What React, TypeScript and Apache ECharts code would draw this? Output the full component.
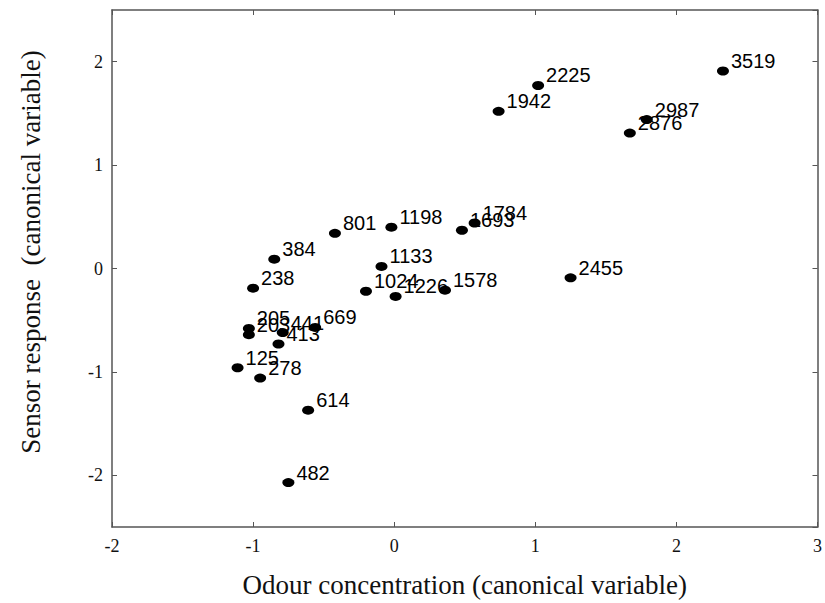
import React, { useEffect, useRef } from "react";
import * as echarts from "echarts";

const pointLabels = ["3519", "2225", "1942", "2987", "2876", "1784", "1693", "1198", "801", "1133", "1024", "1226", "1578", "2455", "384", "238", "205", "203", "441", "669", "413", "125", "278", "614", "482"];
const odourValues = [2.33, 1.02, 0.74, 1.79, 1.67, 0.57, 0.48, -0.02, -0.42, -0.09, -0.2, 0.01, 0.36, 1.25, -0.85, -1.0, -1.03, -1.03, -0.79, -0.56, -0.82, -1.11, -0.95, -0.61, -0.75];
const sensorValues = [1.91, 1.77, 1.52, 1.44, 1.31, 0.44, 0.37, 0.4, 0.34, 0.02, -0.22, -0.27, -0.21, -0.09, 0.09, -0.19, -0.58, -0.64, -0.62, -0.57, -0.73, -0.96, -1.06, -1.37, -2.07];

const xTitle = "Odour concentration (canonical variable)";
const yTitle = "Sensor response  (canonical variable)";

const SERIF = "'Liberation Serif', 'Times New Roman', serif";
const SANS = "'Liberation Sans', Arial, sans-serif";

export default function App() {
  const ref = useRef<HTMLDivElement>(null);
  useEffect(() => {
    if (!ref.current) return;
    const chart = echarts.init(ref.current, null, { renderer: "svg" });
    const axisLine = { show: true, onZero: false, lineStyle: { color: "#555", width: 1.5 } };
    const axisTick = { show: true, inside: true, length: 5, lineStyle: { color: "#555", width: 1 } };
    const data = pointLabels.map((name, i) => ({ name, value: [odourValues[i], sensorValues[i]] }));
    chart.setOption({
      animation: false,
      backgroundColor: "#fff",
      grid: { left: 112, right: 6, top: 10, bottom: 75, containLabel: false },
      xAxis: [
        {
          type: "value", min: -2, max: 3, interval: 1, position: "bottom",
          axisLine, axisTick, splitLine: { show: false },
          axisLabel: { color: "#111", fontFamily: SERIF, fontSize: 18, margin: 10 },
          name: xTitle, nameLocation: "middle", nameGap: 44,
          nameTextStyle: { color: "#111", fontFamily: SERIF, fontSize: 27 },
        },
        {
          type: "value", min: -2, max: 3, interval: 1, position: "top",
          axisLine, axisTick, splitLine: { show: false }, axisLabel: { show: false },
        },
      ],
      yAxis: [
        {
          type: "value", min: -2.5, max: 2.5, splitNumber: 5, position: "left",
          axisLine, axisTick, splitLine: { show: false },
          axisLabel: { color: "#111", fontFamily: SERIF, fontSize: 18, margin: 9, showMinLabel: false, showMaxLabel: false },
        },
        {
          type: "value", min: -2.5, max: 2.5, splitNumber: 5, position: "right",
          axisLine, axisTick, splitLine: { show: false }, axisLabel: { show: false },
        },
      ],
      graphic: [
        {
          type: "text", x: 31, y: 252, rotation: Math.PI / 2,
          style: { text: yTitle, font: `27px ${SERIF}`, fill: "#111", textAlign: "center", textVerticalAlign: "middle" },
        },
      ],
      series: [
        {
          type: "scatter",
          xAxisIndex: 0, yAxisIndex: 0,
          data,
          symbol: "circle",
          symbolSize: [12, 9],
          itemStyle: { color: "#000", opacity: 1 },
          label: {
            show: true,
            formatter: (p: any) => p.name,
            position: [14, -5.5],
            align: "left",
            verticalAlign: "middle",
            color: "#000",
            fontFamily: SANS,
            fontSize: 20,
          },
        },
      ],
    });
    return () => chart.dispose();
  }, []);
  return <div ref={ref} style={{ position: "absolute", left: 0, top: 0, width: 825, height: 603 }} />;
}
